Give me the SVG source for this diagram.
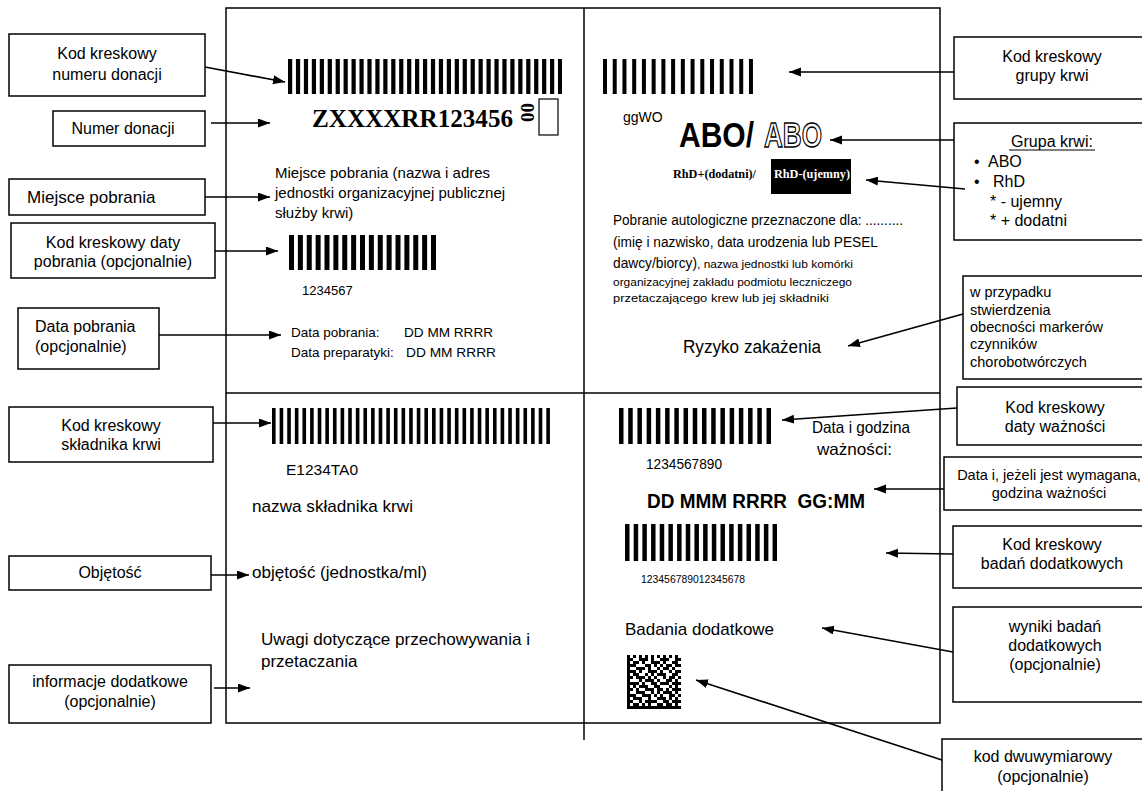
<svg xmlns="http://www.w3.org/2000/svg" width="1142" height="791" viewBox="0 0 1142 791">
<defs>
<marker id="ah" markerUnits="userSpaceOnUse" markerWidth="13" markerHeight="10" refX="12" refY="4.5" orient="auto">
<path d="M0,0 L12,4.5 L0,9 z" fill="#000"/>
</marker>
</defs>
<style>
.box{fill:#fff;stroke:#000;stroke-width:1.5}
.frame{fill:none;stroke:#000;stroke-width:1.5}
text{font-family:"Liberation Sans",Arial,sans-serif;fill:#000}
.l{font-size:16px}
.m{text-anchor:middle}
.ser{font-family:"Liberation Serif","Times New Roman",serif;font-weight:bold}
.bar{stroke:#000;fill:none}
#connectors line{stroke:#000;stroke-width:1.6;marker-end:url(#ah)}
</style>
<rect width="1142" height="791" fill="#fff"/>

<g id="label">
<rect class="frame" x="226" y="8" width="714" height="715"/>
<line x1="226" y1="393" x2="940" y2="393" stroke="#000" stroke-width="1.5"/>
<line x1="584" y1="8" x2="584" y2="740" stroke="#000" stroke-width="1.5"/>
</g>

<g id="donation-barcode">
<line class="bar" x1="288" y1="76.5" x2="562" y2="76.5" stroke-width="35" stroke-dasharray="4.2 3.74"/>
<text class="ser" x="312" y="127" font-size="25.5" textLength="201" lengthAdjust="spacingAndGlyphs">ZXXXXRR123456</text>
<text class="ser" font-size="18" textLength="19" lengthAdjust="spacingAndGlyphs" transform="translate(521,103) rotate(90)">00</text>
<rect x="539" y="99" width="19" height="36" fill="none" stroke="#000" stroke-width="1.2"/>
</g>

<g id="collection-place">
<text x="275" y="178" font-size="15">Miejsce pobrania (nazwa i adres</text>
<text x="275" y="198" font-size="15">jednostki organizacyjnej publicznej</text>
<text x="275" y="218" font-size="15">służby krwi)</text>
</g>

<g id="collection-barcode">
<line class="bar" x1="289" y1="252.5" x2="436" y2="252.5" stroke-width="35" stroke-dasharray="5 3.875"/>
<text x="302" y="295" font-size="13">1234567</text>
</g>

<g id="collection-dates">
<text x="291" y="337" font-size="13.5">Data pobrania:</text>
<text x="404" y="337" font-size="13.5" textLength="89" lengthAdjust="spacingAndGlyphs">DD MM RRRR</text>
<text x="291" y="357" font-size="13.5">Data preparatyki:</text>
<text x="406" y="357" font-size="13.5" textLength="90" lengthAdjust="spacingAndGlyphs">DD MM RRRR</text>
</g>

<g id="group-barcode">
<line class="bar" x1="603" y1="76.5" x2="753" y2="76.5" stroke-width="35" stroke-dasharray="4 5.73"/>
<text x="623" y="122" font-size="14">ggWO</text>
</g>

<g id="abo">
<text x="679" y="147" font-size="35" font-weight="bold" textLength="75" lengthAdjust="spacingAndGlyphs">ABO/</text>
<text x="764" y="147" font-size="35" font-weight="bold" textLength="58" lengthAdjust="spacingAndGlyphs" style="fill:#fff;stroke:#000;stroke-width:1.4">ABO</text>
</g>

<g id="rhd">
<text class="ser" x="673" y="178" font-size="12" textLength="83" lengthAdjust="spacingAndGlyphs">RhD+(dodatni)/</text>
<rect x="771" y="159" width="80" height="35" fill="#000"/>
<text class="ser" x="774" y="178" font-size="12" textLength="76" lengthAdjust="spacingAndGlyphs" style="fill:#fff">RhD-(ujemny)</text>
</g>

<g id="autologous">
<text x="613" y="225" font-size="14" textLength="290" lengthAdjust="spacingAndGlyphs">Pobranie autologiczne przeznaczone dla: ..........</text>
<text x="613" y="247" font-size="14" textLength="265" lengthAdjust="spacingAndGlyphs">(imię i nazwisko, data urodzenia lub PESEL</text>
<text x="613" y="268" font-size="14" textLength="84" lengthAdjust="spacingAndGlyphs">dawcy/biorcy)</text>
<text x="697" y="268" font-size="11.5" textLength="156" lengthAdjust="spacingAndGlyphs">, nazwa jednostki lub komórki</text>
<text x="613" y="286" font-size="11.5" textLength="239" lengthAdjust="spacingAndGlyphs">organizacyjnej zakładu podmiotu leczniczego</text>
<text x="613" y="302" font-size="11.5" textLength="216" lengthAdjust="spacingAndGlyphs">przetaczającego krew lub jej składniki</text>
</g>

<g id="infection-risk">
<text x="683" y="353" font-size="18" textLength="138" lengthAdjust="spacingAndGlyphs">Ryzyko zakażenia</text>
</g>

<g id="component-barcode">
<line class="bar" x1="272" y1="426" x2="550" y2="426" stroke-width="36" stroke-dasharray="3.6 4.02"/>
<text x="286" y="475" font-size="15" textLength="72" lengthAdjust="spacingAndGlyphs">E1234TA0</text>
</g>

<g id="component-name">
<text x="252" y="512" font-size="17" textLength="161" lengthAdjust="spacingAndGlyphs">nazwa składnika krwi</text>
</g>

<g id="volume">
<text x="252" y="578" font-size="17" textLength="175" lengthAdjust="spacingAndGlyphs">objętość (jednostka/ml)</text>
</g>

<g id="storage-notes">
<text x="261" y="645" font-size="17" textLength="269" lengthAdjust="spacingAndGlyphs">Uwagi dotyczące przechowywania i</text>
<text x="261" y="667" font-size="17">przetaczania</text>
</g>

<g id="expiry-barcode">
<line class="bar" x1="619" y1="426" x2="771" y2="426" stroke-width="36" stroke-dasharray="4.5 4.72"/>
<text x="646" y="469" font-size="14" textLength="76" lengthAdjust="spacingAndGlyphs">1234567890</text>
<text x="812" y="433" font-size="16.5" textLength="98" lengthAdjust="spacingAndGlyphs">Data i godzina</text>
<text x="817" y="455" font-size="16.5" textLength="75" lengthAdjust="spacingAndGlyphs">ważności:</text>
</g>

<g id="expiry-date">
<text x="647" y="508" font-size="21" font-weight="bold" textLength="218" lengthAdjust="spacingAndGlyphs" style="white-space:pre">DD MMM RRRR  GG:MM</text>
</g>

<g id="tests-barcode">
<line class="bar" x1="625" y1="542.5" x2="777" y2="542.5" stroke-width="37" stroke-dasharray="4.5 4.18"/>
<text x="641" y="583" font-size="11" textLength="104" lengthAdjust="spacingAndGlyphs">123456789012345678</text>
</g>

<g id="tests">
<text x="625" y="635" font-size="17" textLength="149" lengthAdjust="spacingAndGlyphs">Badania dodatkowe</text>
</g>

<g id="matrix-code">
<path fill="#000" d="M627 655h3v3h-3z M633 655h3v3h-3z M639 655h3v3h-3z M645 655h3v3h-3z M651 655h3v3h-3z M657 655h3v3h-3z M663 655h3v3h-3z M669 655h3v3h-3z M675 655h3v3h-3z
M627 658h6v3h-6z M639 658h9v3h-9z M651 658h3v3h-3z M660 658h9v3h-9z M675 658h6v3h-6z
M627 661h3v3h-3z M633 661h6v3h-6z M642 661h3v3h-3z M651 661h9v3h-9z M663 661h3v3h-3z M672 661h6v3h-6z
M627 664h9v3h-9z M645 664h6v3h-6z M654 664h3v3h-3z M660 664h3v3h-3z M666 664h6v3h-6z M675 664h6v3h-6z
M627 667h3v3h-3z M636 667h9v3h-9z M648 667h3v3h-3z M657 667h3v3h-3z M663 667h6v3h-6z M672 667h3v3h-3z
M627 670h9v3h-9z M639 670h3v3h-3z M648 670h9v3h-9z M660 670h3v3h-3z M669 670h3v3h-3z M675 670h6v3h-6z
M627 673h3v3h-3z M633 673h6v3h-6z M645 673h3v3h-3z M651 673h3v3h-3z M657 673h9v3h-9z M672 673h6v3h-6z
M627 676h6v3h-6z M636 676h9v3h-9z M648 676h3v3h-3z M654 676h3v3h-3z M663 676h3v3h-3z M669 676h6v3h-6z M678 676h3v3h-3z
M627 679h3v3h-3z M639 679h3v3h-3z M645 679h9v3h-9z M657 679h3v3h-3z M666 679h6v3h-6z M675 679h3v3h-3z
M627 682h12v3h-12z M642 682h3v3h-3z M651 682h6v3h-6z M660 682h9v3h-9z M672 682h9v3h-9z
M627 685h3v3h-3z M633 685h3v3h-3z M639 685h9v3h-9z M654 685h6v3h-6z M669 685h3v3h-3z M675 685h3v3h-3z
M627 688h6v3h-6z M636 688h3v3h-3z M645 688h9v3h-9z M657 688h6v3h-6z M666 688h3v3h-3z M672 688h9v3h-9z
M627 691h3v3h-3z M636 691h9v3h-9z M651 691h3v3h-3z M657 691h3v3h-3z M663 691h9v3h-9z M675 691h3v3h-3z
M627 694h9v3h-9z M642 694h9v3h-9z M654 694h3v3h-3z M660 694h3v3h-3z M669 694h6v3h-6z M678 694h3v3h-3z
M627 697h3v3h-3z M633 697h9v3h-9z M648 697h3v3h-3z M657 697h9v3h-9z M669 697h3v3h-3z M675 697h3v3h-3z
M627 700h6v3h-6z M639 700h3v3h-3z M645 700h12v3h-12z M663 700h6v3h-6z M672 700h9v3h-9z
M627 703h3v3h-3z M633 703h6v3h-6z M642 703h3v3h-3z M648 703h3v3h-3z M657 703h6v3h-6z M666 703h6v3h-6z M675 703h3v3h-3z
M627 706h54v3h-54z"/>
</g>

<g id="n-kod-numeru">
<rect class="box" x="9" y="34" width="196" height="62"/>
<text class="l m" x="107" y="59">Kod kreskowy</text>
<text class="l m" x="107" y="80">numeru donacji</text>
</g>
<g id="n-numer">
<rect class="box" x="53" y="111" width="152" height="35"/>
<text class="l m" x="123" y="134">Numer donacji</text>
</g>
<g id="n-miejsce">
<rect class="box" x="9" y="179" width="196" height="36"/>
<text x="27" y="203" font-size="17">Miejsce pobrania</text>
</g>
<g id="n-kod-daty-pobrania">
<rect class="box" x="11" y="223" width="204" height="55"/>
<text class="l m" x="113" y="248">Kod kreskowy daty</text>
<text class="l m" x="113" y="267">pobrania (opcjonalnie)</text>
</g>
<g id="n-data-pobrania">
<rect class="box" x="18" y="308" width="141" height="61"/>
<text class="l" x="35" y="332">Data pobrania</text>
<text class="l" x="35" y="352">(opcjonalnie)</text>
</g>
<g id="n-kod-skladnika">
<rect class="box" x="9" y="407" width="204" height="55"/>
<text class="l m" x="111" y="431">Kod kreskowy</text>
<text class="l m" x="111" y="450">składnika krwi</text>
</g>
<g id="n-objetosc">
<rect class="box" x="9" y="556" width="202" height="34"/>
<text class="l m" x="110" y="578">Objętość</text>
</g>
<g id="n-informacje">
<rect class="box" x="9" y="665" width="202" height="58"/>
<text class="l m" x="110" y="687">informacje dodatkowe</text>
<text class="l m" x="110" y="707">(opcjonalnie)</text>
</g>

<g id="n-kod-grupy">
<rect class="box" x="954" y="37" width="200" height="62"/>
<text class="l m" x="1052" y="62">Kod kreskowy</text>
<text class="l m" x="1052" y="81">grupy krwi</text>
</g>
<g id="n-grupa">
<rect class="box" x="954" y="123" width="200" height="117"/>
<text class="l m" x="1052" y="147">Grupa krwi:</text>
<line x1="1009" y1="150" x2="1095" y2="150" stroke="#000" stroke-width="1"/>
<text class="l" x="974" y="167">•</text>
<text class="l" x="988" y="167">ABO</text>
<text class="l" x="974" y="187">•</text>
<text class="l" x="993" y="187">RhD</text>
<text class="l" x="990" y="207">* - ujemny</text>
<text class="l" x="990" y="226">* + dodatni</text>
</g>
<g id="n-ryzyko">
<rect class="box" x="963" y="276" width="190" height="103"/>
<text x="970" y="297" font-size="14.5">w przypadku</text>
<text x="970" y="315" font-size="14.5">stwierdzenia</text>
<text x="970" y="332" font-size="14.5">obecności markerów</text>
<text x="970" y="349" font-size="14.5">czynników</text>
<text x="970" y="367" font-size="14.5">chorobotwórczych</text>
</g>
<g id="n-kod-waznosci">
<rect class="box" x="957" y="387" width="200" height="58"/>
<text class="l m" x="1055" y="413">Kod kreskowy</text>
<text class="l m" x="1055" y="432">daty ważności</text>
</g>
<g id="n-data-waznosci">
<rect class="box" x="944" y="457" width="210" height="53"/>
<text class="m" x="1049" y="480" font-size="14.5">Data i, jeżeli jest wymagana,</text>
<text class="m" x="1049" y="498" font-size="14.5">godzina ważności</text>
</g>
<g id="n-kod-badan">
<rect class="box" x="953" y="526" width="200" height="62"/>
<text class="l m" x="1052" y="550">Kod kreskowy</text>
<text class="l m" x="1052" y="569">badań dodatkowych</text>
</g>
<g id="n-wyniki">
<rect class="box" x="953" y="607" width="200" height="95"/>
<text class="l m" x="1055" y="632">wyniki badań</text>
<text class="l m" x="1055" y="651">dodatkowych</text>
<text class="l m" x="1055" y="670">(opcjonalnie)</text>
</g>
<g id="n-kod-2d">
<rect class="box" x="942" y="739" width="210" height="60"/>
<text class="l m" x="1043" y="762">kod dwuwymiarowy</text>
<text class="l m" x="1043" y="782">(opcjonalnie)</text>
</g>

<g id="connectors">
<line x1="205" y1="67" x2="285" y2="82"/>
<line x1="211" y1="123" x2="270" y2="123"/>
<line x1="205" y1="197" x2="270" y2="197"/>
<line x1="215" y1="251" x2="278" y2="251"/>
<line x1="159" y1="335" x2="281" y2="335"/>
<line x1="213" y1="423" x2="271" y2="423"/>
<line x1="211" y1="575" x2="249" y2="575"/>
<line x1="214" y1="688" x2="250" y2="688"/>
<line x1="954" y1="72" x2="789" y2="72"/>
<line x1="954" y1="140" x2="830" y2="140"/>
<line x1="965" y1="189" x2="866" y2="180"/>
<line x1="963" y1="314" x2="848" y2="346"/>
<line x1="957" y1="408" x2="782" y2="420"/>
<line x1="944" y1="489" x2="874" y2="489"/>
<line x1="953" y1="554" x2="886" y2="553"/>
<line x1="953" y1="652" x2="822" y2="628"/>
<line x1="942" y1="760" x2="696" y2="680"/>
</g>
</svg>
